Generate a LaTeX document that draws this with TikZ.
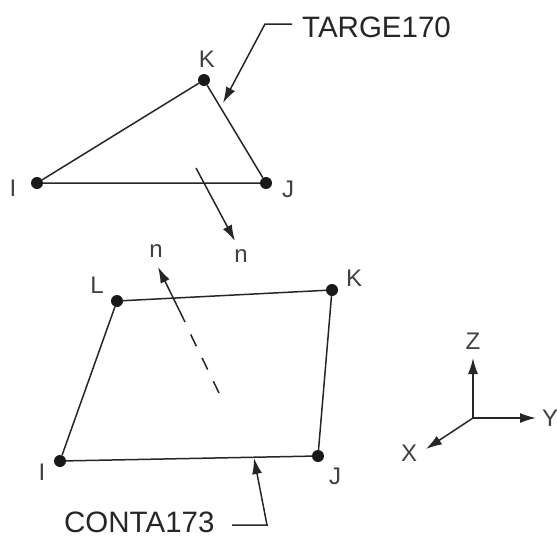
\documentclass[tikz,border=0pt]{standalone}
\usepackage{fontspec}
\setmainfont{Liberation Sans}
\usetikzlibrary{positioning,arrows.meta}
\tikzset{
  dotnode/.style={shape=circle,fill=black!90,inner sep=0pt,minimum size=12pt},
  lab/.style={inner sep=0pt,font=\fontsize{24pt}{24pt}\selectfont,text=black!75},
  biglab/.style={inner sep=0pt,font=\fontsize{29.5pt}{29.5pt}\selectfont,text=black!85},
  line/.style={draw=black!85,line width=1.5pt},
  arrow/.style={line,-{Latex[length=16pt,width=10pt]}}
}
\begin{document}
\begin{tikzpicture}[x=1pt,y=-1pt]
\useasboundingbox (0,0) rectangle (557,536);

% upper triangle
\node[dotnode] (I1) at (37,183) {};
\node[dotnode] (J1) at (266,183) {};
\node[dotnode] (K1) at (204,80) {};
\node[lab] (tI1) at (13,188) {I};
\node[lab] (tJ1) at (288,189) {J};
\node[lab] (tK1) at (207,59) {K};
\draw[line] (I1) -- (J1) -- (K1) -- (I1);

\coordinate (n1s) at (196,168);
\coordinate (n1e) at (235,241);
\node[lab] (n1) at (241,256) {n};
\draw[arrow] (n1s) -- (n1e);

\node[biglab,anchor=west] (targe) at (302,27) {TARGE170};
\coordinate (t0) at (292,24);
\coordinate (t1) at (265,24);
\coordinate (t2) at (223,103);
\draw[arrow] (t0) -- (t1) -- (t2);

% lower quad
\node[dotnode] (I2) at (60,461) {};
\node[dotnode] (J2) at (318,456) {};
\node[dotnode] (K2) at (332,290) {};
\node[dotnode] (L2) at (117,301) {};
\node[lab] (tI2) at (42,472) {I};
\node[lab] (tJ2) at (335,476) {J};
\node[lab] (tK2) at (354,278) {K};
\node[lab] (tL2) at (97,285) {L};
\draw[line] (I2) -- (J2) -- (K2) -- (L2) -- (I2);

\coordinate (n2s) at (219,393);
\coordinate (n2m) at (190,333);
\coordinate (n2b) at (185,322);
\coordinate (n2e) at (158,267);
\node[lab] (n2) at (156,251) {n};
\draw[line,dash pattern=on 13pt off 13pt] (n2s) -- (n2m);
\draw[arrow] (n2b) -- (n2e);

\node[biglab,anchor=west] (conta) at (64,522) {CONTA173};
\coordinate (c0) at (232,525);
\coordinate (c1) at (267,525);
\coordinate (c2) at (254,458);
\draw[arrow] (c0) -- (c1) -- (c2);

% axes
\coordinate (o) at (473,418);
\coordinate (oz) at (473,358);
\coordinate (oy) at (536,418);
\coordinate (ox) at (426,449);
\node[lab] (tz) at (473,341) {Z};
\node[lab] (ty) at (550,418) {Y};
\node[lab] (tx) at (409,453) {X};
\draw[arrow] (o) -- (oz);
\draw[arrow] (o) -- (oy);
\draw[arrow] (o) -- (ox);
\end{tikzpicture}
\end{document}
